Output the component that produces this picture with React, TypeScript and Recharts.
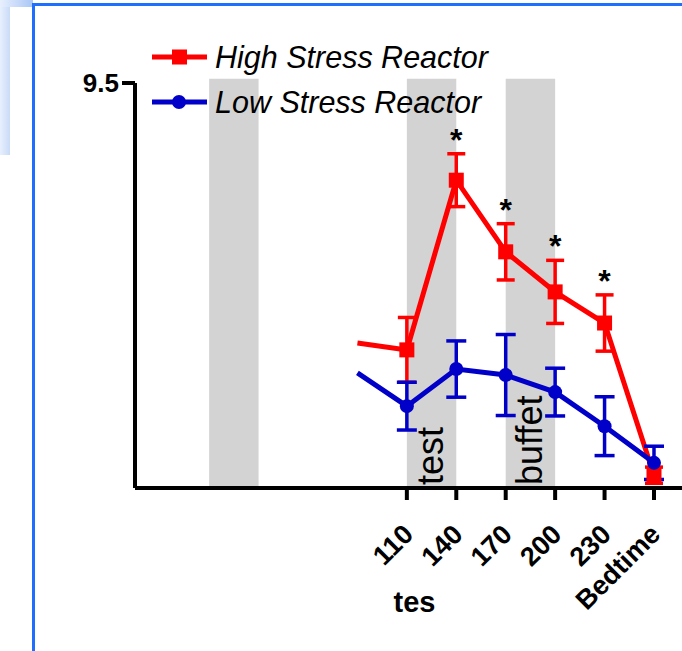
import React from "react";
import {
  LineChart,
  Line,
  XAxis,
  YAxis,
  ErrorBar,
  ReferenceArea,
  ReferenceDot,
  Legend,
} from "recharts";

// sampling times (minutes); 260 stands for "Bedtime"
const times = [80, 110, 140, 170, 200, 230, 260];
const tickTimes = [110, 140, 170, 200, 230, 260];
const tickLabels = ["110", "140", "170", "200", "230", "Bedtime"];
const yTicks = [9.5];

const highValues = [3.4, 3.24, 7.22, 5.54, 4.6, 3.87, 0.3];
const highErrors = [null, 0.76, 0.62, 0.66, 0.74, 0.66, 0.19];
const lowValues = [2.7, 1.92, 2.79, 2.65, 2.25, 1.45, 0.59];
const lowErrors = [null, 0.56, 0.66, 0.95, 0.56, 0.69, 0.39];

const seriesNames = ["High Stress Reactor", "Low Stress Reactor"];
const sigTimes = [140, 170, 200, 230];

const bandStarts = [-10, 110, 170];
const bandEnds = [20, 140, 200];
const bandLabels = ["", "test", "buffet"];

const axisTitle = "tes";

const FONT = '"Liberation Sans", Arial, sans-serif';
const RED = "#ff0000";
const BLUE = "#0000c8";

const data = times.map((t, i) => ({
  time: t,
  high: highValues[i],
  highErr: highErrors[i],
  low: lowValues[i],
  lowErr: lowErrors[i],
}));

const squareDot = (props: any) => {
  const { cx, cy, index } = props;
  if (index === 0 || cx == null) return <g key={`h-${index}`} />;
  return <rect key={`h-${index}`} x={cx - 7.5} y={cy - 7.5} width={15} height={15} fill={RED} />;
};

const circleDot = (props: any) => {
  const { cx, cy, index } = props;
  if (index === 0 || cx == null) return <g key={`l-${index}`} />;
  return <circle key={`l-${index}`} cx={cx} cy={cy} r={7} fill={BLUE} />;
};

const XTick = (props: any) => {
  const { x, y, payload } = props;
  const label = tickLabels[tickTimes.indexOf(payload.value)];
  return (
    <g transform={`translate(${x + 8},${y + 34})`}>
      <text
        textAnchor="end"
        transform="rotate(-45)"
        fontSize={27}
        fontWeight="bold"
        fontFamily={FONT}
        fill="#000"
      >
        {label}
      </text>
    </g>
  );
};

const bandLabel = (text: string) => (props: any) => {
  const { x, y, width, height } = props.viewBox;
  const bx = x + width * 0.73;
  const by = y + height - 3;
  return (
    <text
      x={bx}
      y={by}
      transform={`rotate(-90, ${bx}, ${by})`}
      fontSize={36}
      fontFamily={FONT}
      fill="#000"
    >
      {text}
    </text>
  );
};

const starShape = (props: any) => (
  <text
    x={props.cx}
    y={props.cy - 3}
    textAnchor="middle"
    fontSize={32}
    fontWeight="bold"
    fontFamily={FONT}
    fill="#000"
  >
    *
  </text>
);

const axisLabel = (props: any) => {
  const { x, width, y } = props.viewBox;
  return (
    <text
      x={x + width / 2 + 6}
      y={y + 124}
      textAnchor="middle"
      fontSize={29}
      fontWeight="bold"
      fontFamily={FONT}
      fill="#000"
    >
      {axisTitle}
    </text>
  );
};

const renderLegend = () => (
  <svg width={420} height={100}>
    {seriesNames.map((name, i) => {
      const cy = 27 + i * 45;
      const color = i === 0 ? RED : BLUE;
      return (
        <g key={name}>
          <line x1={7} x2={62} y1={cy} y2={cy} stroke={color} strokeWidth={5} />
          {i === 0 ? (
            <rect x={27} y={cy - 7.5} width={15} height={15} fill={color} />
          ) : (
            <circle cx={34} cy={cy} r={7} fill={color} />
          )}
          <text
            x={70}
            y={cy + 11}
            fontSize={30.5}
            fontStyle="italic"
            fontFamily={FONT}
            fill="#000"
          >
            {name}
          </text>
        </g>
      );
    })}
  </svg>
);

export default function App() {
  return (
    <div
      style={{
        position: "absolute",
        left: 0,
        top: 0,
        width: 682,
        height: 651,
        background: "#fff",
        overflow: "hidden",
      }}
    >
      {/* slide frame bits */}
      <div
        style={{
          position: "absolute",
          left: 0,
          top: 0,
          width: 10,
          height: 155,
          background: "linear-gradient(90deg, #e8f0fd, #c9dbf8)",
        }}
      />
      <div
        style={{
          position: "absolute",
          left: 0,
          top: 0,
          width: 33,
          height: 7,
          background: "linear-gradient(90deg, #e8f0fd, #a9c6f6)",
        }}
      />
      <div style={{ position: "absolute", left: 32, top: 3, width: 3, height: 648, background: "#1f6fff" }} />
      <div style={{ position: "absolute", left: 32, top: 3, width: 650, height: 3, background: "#1f6fff" }} />

      <div style={{ position: "absolute", left: 0, top: 0 }}>
        <LineChart
          width={682}
          height={651}
          data={data}
          margin={{ top: 83, right: 0, bottom: 0, left: 0 }}
        >
          {bandStarts.map((s, i) => (
            <ReferenceArea
              key={`band-${i}`}
              x1={s}
              x2={bandEnds[i]}
              y1={0}
              y2={9.6}
              ifOverflow="visible"
              fill="#d3d3d3"
              fillOpacity={1}
              stroke="none"
              label={bandLabels[i] ? bandLabel(bandLabels[i]) : undefined}
            />
          ))}
          <XAxis
            type="number"
            dataKey="time"
            domain={[-55, 277]}
            ticks={tickTimes}
            interval={0}
            allowDataOverflow
            height={163}
            tickSize={12}
            axisLine={{ stroke: "#000", strokeWidth: 4 }}
            tickLine={{ stroke: "#000", strokeWidth: 4 }}
            tick={<XTick />}
            label={axisLabel}
          />
          <YAxis
            type="number"
            domain={[0, 9.5]}
            ticks={yTicks}
            allowDataOverflow
            width={135}
            tickSize={13}
            tickMargin={3}
            axisLine={{ stroke: "#000", strokeWidth: 4 }}
            tickLine={{ stroke: "#000", strokeWidth: 4 }}
            tick={{ fill: "#000", fontSize: 26, fontWeight: "bold", fontFamily: FONT }}
          />
          <Legend
            layout="horizontal"
            align="center"
            verticalAlign="middle"
            content={renderLegend}
            wrapperStyle={{ left: 145, top: 30, width: 420, height: 100 }}
          />
          <Line
            name={seriesNames[0]}
            dataKey="high"
            stroke={RED}
            strokeWidth={5}
            dot={squareDot}
            activeDot={false}
            isAnimationActive={false}
          >
            <ErrorBar dataKey="highErr" width={9} stroke={RED} strokeWidth={3.5} direction="y" />
          </Line>
          <Line
            name={seriesNames[1]}
            dataKey="low"
            stroke={BLUE}
            strokeWidth={5}
            dot={circleDot}
            activeDot={false}
            isAnimationActive={false}
          >
            <ErrorBar dataKey="lowErr" width={10} stroke={BLUE} strokeWidth={3.5} direction="y" />
          </Line>
          {sigTimes.map((t) => {
            const i = times.indexOf(t);
            return (
              <ReferenceDot
                key={`sig-${t}`}
                x={t}
                y={highValues[i] + (highErrors[i] ?? 0)}
                r={0}
                ifOverflow="visible"
                shape={starShape}
              />
            );
          })}
        </LineChart>
      </div>
    </div>
  );
}
